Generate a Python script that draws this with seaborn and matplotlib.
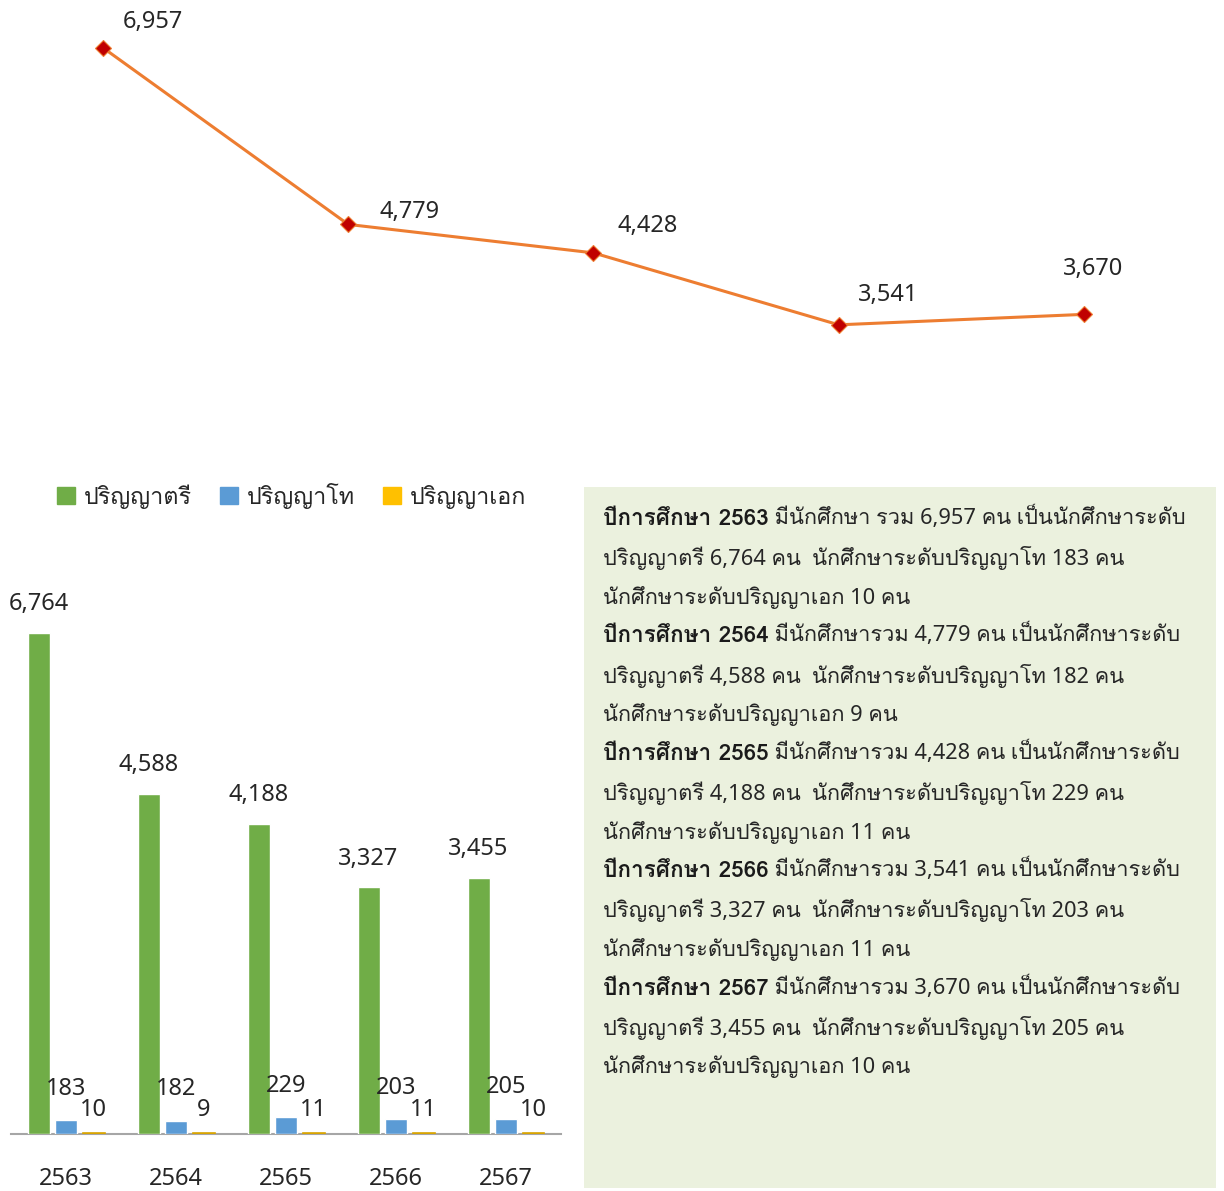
import matplotlib
matplotlib.use('Agg')
import matplotlib.pyplot as plt
from matplotlib import font_manager
from matplotlib.ft2font import FT2Font
from matplotlib.patches import Patch
import pandas as pd
import seaborn as sns

# data
years = ['2563', '2564', '2565', '2566', '2567']
total = [6957, 4779, 4428, 3541, 3670]
bachelor = [6764, 4588, 4188, 3327, 3455]
master = [183, 182, 229, 203, 205]
doctor = [10, 9, 11, 11, 10]
levels = ['ปริญญาตรี', 'ปริญญาโท', 'ปริญญาเอก']
colors = ['#70AD47', '#5B9BD5', '#FFC000']

# label offsets (px) for the line labels, Excel style placement
line_label_dx = [50, 61, 54, 49, 9]
line_label_dy = [-26, -12, -27, -30, -45]


def find_thai_font():
    for f in font_manager.fontManager.ttflist:
        try:
            if 0x0E1B in FT2Font(f.fname).get_charmap():
                return f.name
        except Exception:
            continue
    return None


sns.set_style('white')
thai = find_thai_font()
fams = ['Noto Sans'] + ([thai] if thai else []) + ['DejaVu Sans']
bold_fams = ([thai] if thai else []) + ['DejaVu Sans']
plt.rcParams['font.family'] = fams

W, H = 1224, 1191


def frac(x0, y0, x1, y1):
    return [x0 / W, 1 - y1 / H, (x1 - x0) / W, (y1 - y0) / H]


fig = plt.figure(figsize=(W / 100, H / 100), dpi=100)

# line chart of totals
ax1 = fig.add_axes(frac(0, 0, W, 440))
sns.lineplot(x=list(range(len(years))), y=total, ax=ax1, color='#ED7D31', lw=2.2,
             marker='D', markersize=8, markerfacecolor='#C00000', markeredgecolor='#ED7D31',
             markeredgewidth=0.8)
ax1.set_xlim(-0.42, 4.571)
ax1.set_ylim(2121, 7546)
for i, v in enumerate(total):
    ax1.annotate(f'{v:,}', (i, v), xytext=(line_label_dx[i] * 0.72, -line_label_dy[i] * 0.72),
                 textcoords='offset points', ha='center', va='center', fontsize=17, color='#262626')
ax1.axis('off')

# grouped bars by level
df = pd.DataFrame({
    'year': years * 3,
    'level': [levels[0]] * 5 + [levels[1]] * 5 + [levels[2]] * 5,
    'value': bachelor + master + doctor,
})
ax2 = fig.add_axes(frac(11, 560, 561, 1134))
sns.barplot(data=df, x='year', y='value', hue='level', hue_order=levels, palette=colors,
            width=0.75, gap=0.2, saturation=1, ax=ax2, legend=False)
ax2.set_xlim(-0.5, 4.5)
ax2.set_ylim(0, 7746)
# very small doctoral bars: give them an outline so they show as a thin line
for bar in ax2.containers[2]:
    bar.set_edgecolor('#D9A400')
    bar.set_linewidth(1.2)
pads = [12, 14, 8]
for cont, p in zip(ax2.containers, pads):
    ax2.bar_label(cont, labels=[f'{v:,.0f}' for v in cont.datavalues], padding=p,
                  fontsize=17, color='#262626')
for s in ['top', 'right', 'left']:
    ax2.spines[s].set_visible(False)
ax2.spines['bottom'].set_color('#A6A6A6')
ax2.spines['bottom'].set_linewidth(1.5)
ax2.spines['bottom'].set_zorder(0)
ax2.set_yticks([])
ax2.set_xlabel('')
ax2.set_ylabel('')
ax2.tick_params(axis='x', length=0, pad=24, labelsize=17, labelcolor='#262626')

handles = [Patch(color=c) for c in colors]
ax2.legend(handles, levels, loc='center', bbox_to_anchor=(292 / W, 1 - 497 / H),
           bbox_transform=fig.transFigure, ncol=3, frameon=False, fontsize=16.8,
           handlelength=0.75, handleheight=0.75, handletextpad=0.4, columnspacing=1.2,
           labelcolor='#262626')

# summary text box
ax3 = fig.add_axes(frac(584, 487, 1216, 1188))
ax3.set_facecolor('#EBF1DE')
ax3.set_xlim(584, 1216)
ax3.set_ylim(1188, 487)
ax3.set_xticks([])
ax3.set_yticks([])
for s in ax3.spines.values():
    s.set_visible(False)

fs = 15.7
y = 519
step = 39.14
for i, yr in enumerate(years):
    rest = ' มีนักศึกษา รวม' if i == 0 else ' มีนักศึกษารวม'
    t = ax3.text(603, y, f'ปีการศึกษา {yr}', fontsize=fs + 0.5, weight='bold', va='center',
                 family=bold_fams, color='#1a1a1a')
    ax3.annotate(f'{rest} {total[i]:,} คน เป็นนักศึกษาระดับ', xy=(1, 0), xycoords=t,
                 va='bottom', ha='left', fontsize=fs, color='#262626')
    ax3.text(603, y + step, f'ปริญญาตรี {bachelor[i]:,} คน  นักศึกษาระดับปริญญาโท {master[i]} คน',
             fontsize=fs, va='center', color='#262626')
    ax3.text(603, y + 2 * step, f'นักศึกษาระดับปริญญาเอก {doctor[i]} คน',
             fontsize=fs, va='center', color='#262626')
    y += 3 * step

fig.savefig('out.png', dpi=100)
